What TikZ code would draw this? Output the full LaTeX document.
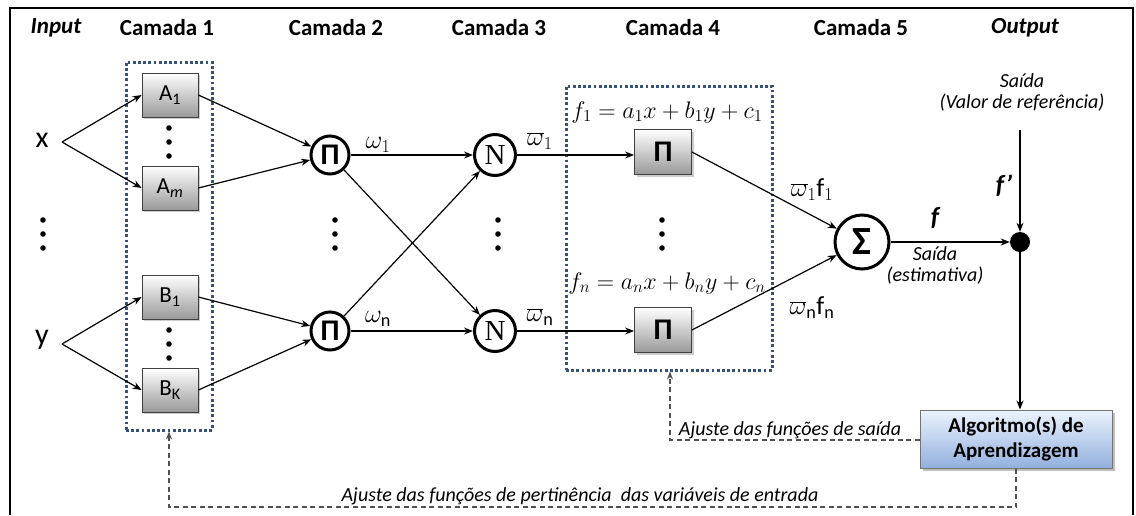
\RequirePackage{fix-cm}
\documentclass[tikz,border=0pt]{standalone}
\usepackage{fontspec}
\setmainfont{Carlito}
\newfontfamily\serifN{Liberation Serif}
\usetikzlibrary{arrows.meta,shadows,calc}
\definecolor{dotblue}{RGB}{52,82,122}
\definecolor{algotop}{RGB}{236,243,253}
\definecolor{algobot}{RGB}{146,176,222}
\definecolor{fbgray}{RGB}{80,80,80}
\begin{document}
\begin{tikzpicture}[x=1pt,y=-1pt,
  hdr/.style={font=\fontsize{23}{25}\selectfont\bfseries},
  mfbox/.style={draw=black!75, line width=0.8pt, top color=white, bottom color=black!40,
    minimum width=56pt, minimum height=44pt, inner sep=0pt,
    drop shadow={shadow xshift=2pt,shadow yshift=-2pt,opacity=0.4},
    font=\fontsize{23}{25}\selectfont},
  opcirc/.style={circle, draw=black, line width=3pt, fill=white, inner sep=0pt, minimum size=38pt},
  conn/.style={-{Stealth[length=9pt,width=7pt]}, line width=1.2pt},
  fb/.style={-{Stealth[length=8pt,width=6pt]}, line width=1.1pt, draw=fbgray, dash pattern=on 5pt off 3.5pt},
  layerframe/.style={draw=dotblue, line width=3pt, dash pattern=on 2.8pt off 2.4pt, inner sep=0pt},
  itl/.style={font=\fontsize{20}{23}\selectfont\itshape, inner sep=1pt},
  mlab/.style={font=\fontsize{26}{28}\selectfont, inner sep=1pt},
  vdot/.style={fill=black}
]
\useasboundingbox (0,0) rectangle (1136,515);
% outer frame
\draw[line width=1.2pt] (10,515) -- (10,8) -- (1133,8) -- (1133,515);

% headers
\node[hdr] (hin) at (56,28) {\itshape Input};
\node[hdr] (h1) at (167,28) {Camada 1};
\node[hdr] (h2) at (336,28) {Camada 2};
\node[hdr] (h3) at (499,28) {Camada 3};
\node[hdr] (h4) at (673,28) {Camada 4};
\node[hdr] (h5) at (861,28) {Camada 5};
\node[hdr] (hout) at (1025,28) {\itshape Output};

% layer frames
\node[layerframe, minimum width=86pt, minimum height=368pt] (L1) at (169,246) {};
\node[layerframe, minimum width=206pt, minimum height=284pt] (L4) at (669,228) {};

% inputs
\node[font=\fontsize{30}{32}\selectfont, inner sep=0pt] (xin) at (42,140) {x};
\node[font=\fontsize{30}{32}\selectfont, inner sep=0pt] (yin) at (42,340) {y};
\coordinate (xo) at (62,142);
\coordinate (yo) at (62,344);

% layer 1
\node[mfbox] (A1) at (170,95) {A\textsubscript{1}};
\node[mfbox] (Am) at (170,188) {A\textsubscript{\itshape m}};
\node[mfbox] (B1) at (170,297) {B\textsubscript{1}};
\node[mfbox] (Bk) at (170,390) {B\textsubscript{K}};

% layer 2
\node[opcirc, font=\fontsize{30}{30}\selectfont\bfseries] (P1) at (330,155) {Π};
\node[opcirc, font=\fontsize{30}{30}\selectfont\bfseries] (P2) at (330,331) {Π};

% layer 3
\node[opcirc, minimum size=41pt, font=\fontsize{29}{29}\serifN] (N1) at (495,155) {N};
\node[opcirc, minimum size=41pt, font=\fontsize{29}{29}\serifN] (N2) at (495,331) {N};

% layer 4
\node[mfbox, minimum width=57pt, minimum height=45pt, font=\fontsize{30}{30}\selectfont\bfseries] (Q1) at (663,152) {Π};
\node[mfbox, minimum width=57pt, minimum height=45pt, font=\fontsize{30}{30}\selectfont\bfseries] (Q2) at (663,330) {Π};
\node[font=\fontsize{24}{26}\selectfont, inner sep=0pt] (f1) at (667,112) {$f_1 = a_1x + b_1y + c_1$};
\node[font=\fontsize{24}{26}\selectfont, inner sep=0pt] (fn) at (667,283) {$f_n = a_nx + b_ny + c_n$};

% layer 5
\node[opcirc, minimum size=54pt, font=\fontsize{40}{40}\selectfont\bfseries] (S) at (862,242) {Σ};

% output
\node[circle, fill=black, minimum size=20pt, inner sep=0pt] (D) at (1020,242) {};
\node[font=\fontsize{20}{21}\selectfont\itshape, align=center, inner sep=0pt] (ref) at (1022,92) {Saída\\(Valor de referência)};
\coordinate (reftop) at (1020,130);
\node[font=\fontsize{26}{26}\selectfont\bfseries\itshape] (fp) at (1004,186) {f’};
\node[font=\fontsize{26}{26}\selectfont\bfseries\itshape] (fl) at (935,218) {f};
\node[font=\fontsize{20}{21}\selectfont\itshape, align=center, inner sep=0pt] (est) at (935,265) {Saída\\(estimativa)};

\node[draw=black!55, line width=1pt, top color=algotop, bottom color=algobot,
  minimum width=192pt, minimum height=58pt, align=center, inner sep=0pt,
  font=\fontsize{21}{25}\selectfont\bfseries,
  drop shadow={shadow xshift=2.5pt,shadow yshift=-2.5pt,opacity=0.5}] (Alg) at (1016,439) {Algoritmo(s) de\\Aprendizagem};

% labels on connectors
\node[mlab] (w1) at (378,145) {$\omega_1$};
\node[mlab] (wn) at (378,319) {$\omega_{\mathrm{n}}$};
\node[mlab] (wb1) at (540,141) {$\overline{\omega}_1$};
\node[mlab] (wbn) at (540,317) {$\overline{\omega}_{\mathrm{n}}$};
\node[mlab] (wf1) at (812,190) {$\overline{\omega}_1\mathrm{f}_1$};
\node[mlab] (wfn) at (812,308) {$\overline{\omega}_{\mathrm{n}}\mathrm{f}_{\mathrm{n}}$};

% vertical dots
\foreach \xx/\yy in {169/142, 169/344, 43/234, 335/234, 498/234, 662/234}{
  \foreach \dd in {-14,0,14}{
    \fill[vdot] ($(\xx,\yy)+(0,\dd)$) circle (2.8pt);
  }
}

% connectors
\draw[conn] (xo) -- (A1.west);
\draw[conn] (xo) -- (Am.west);
\draw[conn] (yo) -- (B1.west);
\draw[conn] (yo) -- (Bk.west);
\draw[conn] (A1.east) -- (P1);
\draw[conn] (Am.east) -- (P1);
\draw[conn] (B1.east) -- (P2);
\draw[conn] (Bk.east) -- (P2);
\draw[conn] (P1) -- (N1);
\draw[conn] (P1) -- (N2);
\draw[conn] (P2) -- (N1);
\draw[conn] (P2) -- (N2);
\draw[conn] (N1) -- (Q1.west |- N1);
\draw[conn] (N2) -- (Q2.west |- N2);
\draw[conn] (Q1.east) -- (S);
\draw[conn] (Q2.east) -- (S);
\draw[conn] (S) -- (D);
\draw[conn] (reftop) -- (D);
\draw[conn] (D) -- (D |- Alg.north);

% feedback
\coordinate (c1) at (670,440);
\coordinate (c2) at (169,507);
\draw[fb] (Alg.west |- c1) -- (c1) -- (c1 |- L4.south);
\draw[fb] (Alg.south) -- (Alg.south |- c2) -- (c2) -- (L1.south);
\node[itl, anchor=south] (t1) at (790,440) {Ajuste das funções de saída};
\node[itl, anchor=south] (t2) at (580,506) {Ajuste das funções de pertinência\ \ das variáveis de entrada};
\end{tikzpicture}
\end{document}
